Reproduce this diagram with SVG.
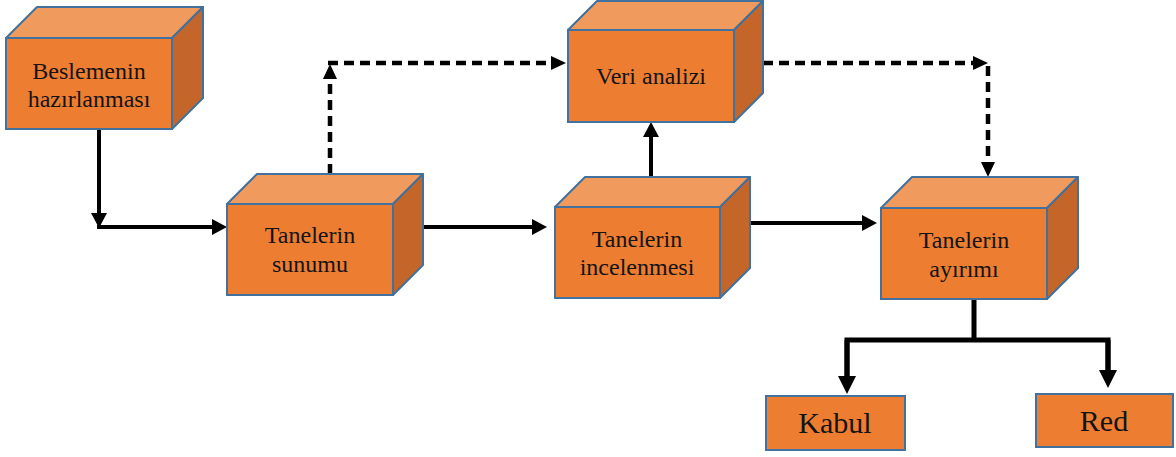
<svg xmlns="http://www.w3.org/2000/svg" width="1176" height="457" viewBox="0 0 1176 457">
  <defs>
    <style>
      .front { fill: #ED7D31; stroke: #41719C; stroke-width: 2; }
      .top { fill: #F19A5E; stroke: #41719C; stroke-width: 2; stroke-linejoin: round; }
      .side { fill: #C4652A; stroke: #41719C; stroke-width: 2; stroke-linejoin: round; }
      .lbl { font-family: "Liberation Serif", "Times New Roman", serif; font-size: 24px; fill: #141414; text-anchor: middle; }
      .lbl-big { font-family: "Liberation Serif", "Times New Roman", serif; font-size: 30px; fill: #141414; text-anchor: middle; }
      .solid { fill: none; stroke: #000; stroke-width: 4; }
      .thick { fill: none; stroke: #000; stroke-width: 5; stroke-linejoin: miter; }
      .dash { fill: none; stroke: #000; stroke-width: 4.5; stroke-dasharray: 10 6; }
    </style>
    <marker id="arr" markerUnits="userSpaceOnUse" markerWidth="15" markerHeight="16" refX="1" refY="8" orient="auto">
      <path d="M0,0 L15,8 L0,16 z" fill="#000"/>
    </marker>
    <marker id="arrD" markerUnits="userSpaceOnUse" markerWidth="15" markerHeight="14" refX="1" refY="7" orient="auto">
      <path d="M0,0 L15,7 L0,14 z" fill="#000"/>
    </marker>
    <marker id="arrB" markerUnits="userSpaceOnUse" markerWidth="18" markerHeight="18" refX="1" refY="9" orient="auto">
      <path d="M0,0 L18,9 L0,18 z" fill="#000"/>
    </marker>
  </defs>

  <!-- connectors -->
  <g id="connectors">
    <path class="solid" d="M99,129 V214" marker-end="url(#arr)"/>
    <path class="solid" d="M97,227 H213" marker-end="url(#arr)"/>
    <path class="solid" d="M423,227 H533" marker-end="url(#arr)"/>
    <path class="solid" d="M750,223 H863" marker-end="url(#arr)"/>
    <path class="solid" d="M651,191 V136" marker-end="url(#arr)"/>
    <path class="dash" d="M330,174 V78" marker-end="url(#arrD)"/>
    <path class="dash" d="M328,63 H552" marker-end="url(#arrD)"/>
    <path class="dash" d="M763,63 H974" marker-end="url(#arrD)"/>
    <path class="dash" d="M988,66 V163" marker-end="url(#arrD)"/>
    <path class="thick" d="M974,299 V340"/>
    <path class="thick" d="M847,377 V340 H1108 V371"/>
    <path class="thick" d="M847,340 V377" marker-end="url(#arrB)"/>
    <path class="thick" d="M1108,340 V371" marker-end="url(#arrB)"/>
  </g>

  <!-- Beslemenin hazırlanması -->
  <g id="beslemenin">
    <polygon class="top" points="6,38 37,7 203,7 172,38"/>
    <polygon class="side" points="172,38 203,7 203,98 172,129"/>
    <rect class="front" x="6" y="38" width="166" height="91"/>
    <text class="lbl" x="89" y="79">Beslemenin</text>
    <text class="lbl" x="89" y="107">hazırlanması</text>
  </g>

  <!-- Tanelerin sunumu -->
  <g id="sunumu">
    <polygon class="top" points="227,204 257,174 423,174 393,204"/>
    <polygon class="side" points="393,204 423,174 423,265 393,295"/>
    <rect class="front" x="227" y="204" width="166" height="91"/>
    <text class="lbl" x="310" y="243">Tanelerin</text>
    <text class="lbl" x="310" y="272">sunumu</text>
  </g>

  <!-- Veri analizi -->
  <g id="veri-analizi">
    <polygon class="top" points="568,30 597,1 763,1 734,30"/>
    <polygon class="side" points="734,30 763,1 763,93 734,122"/>
    <rect class="front" x="568" y="30" width="166" height="92"/>
    <text class="lbl" x="651" y="84">Veri analizi</text>
  </g>

  <!-- Tanelerin incelenmesi -->
  <g id="incelenmesi">
    <polygon class="top" points="555,207 585,177 750,177 720,207"/>
    <polygon class="side" points="720,207 750,177 750,268 720,298"/>
    <rect class="front" x="555" y="207" width="165" height="91"/>
    <text class="lbl" x="637" y="247">Tanelerin</text>
    <text class="lbl" x="637" y="275">incelenmesi</text>
  </g>

  <!-- Tanelerin ayırımı -->
  <g id="ayirimi">
    <polygon class="top" points="881,208 912,177 1078,177 1047,208"/>
    <polygon class="side" points="1047,208 1078,177 1078,268 1047,299"/>
    <rect class="front" x="881" y="208" width="166" height="91"/>
    <text class="lbl" x="964" y="248">Tanelerin</text>
    <text class="lbl" x="964" y="277">ayırımı</text>
  </g>

  <!-- Kabul -->
  <g id="kabul">
    <rect class="front" x="766" y="396" width="139" height="54"/>
    <text class="lbl-big" x="835" y="433">Kabul</text>
  </g>

  <!-- Red -->
  <g id="red">
    <rect class="front" x="1036" y="394" width="137" height="53"/>
    <text class="lbl-big" x="1104" y="431">Red</text>
  </g>
</svg>
